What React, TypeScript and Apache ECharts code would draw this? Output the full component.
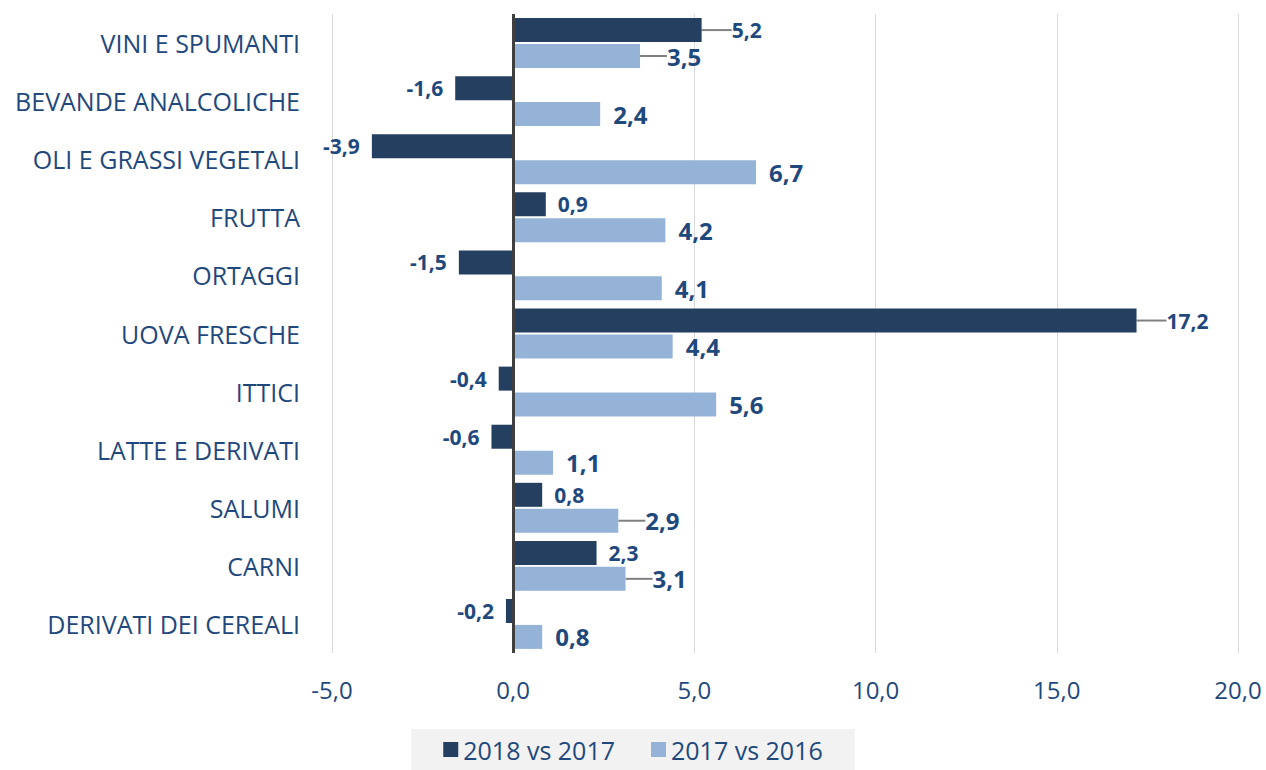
import React, { useEffect, useRef } from "react";
import * as echarts from "echarts";

const categories = [
  "VINI E SPUMANTI",
  "BEVANDE ANALCOLICHE",
  "OLI E GRASSI VEGETALI",
  "FRUTTA",
  "ORTAGGI",
  "UOVA FRESCHE",
  "ITTICI",
  "LATTE E DERIVATI",
  "SALUMI",
  "CARNI",
  "DERIVATI DEI CEREALI",
];
const series2018vs2017 = [5.2, -1.6, -3.9, 0.9, -1.5, 17.2, -0.4, -0.6, 0.8, 2.3, -0.2];
const series2017vs2016 = [3.5, 2.4, 6.7, 4.2, 4.1, 4.4, 5.6, 1.1, 2.9, 3.1, 0.8];
const seriesNames = ["2018 vs 2017", "2017 vs 2016"];
const xTicks = { min: -5, max: 20, interval: 5 };
// categories whose labels were pulled away from the bar with a leader line
const leader2018 = ["VINI E SPUMANTI", "UOVA FRESCHE"];
const leader2017 = ["VINI E SPUMANTI", "SALUMI", "CARNI"];

const fmt = (v: number, d = 1) => v.toFixed(d).replace(".", ",");

export default function App() {
  const ref = useRef<HTMLDivElement>(null);
  useEffect(() => {
    document.body.style.margin = "0";
    const chart = echarts.init(ref.current!, null, { renderer: "svg" });
    const textColor = "#1F497D";
    const font = "'Open Sans', 'DejaVu Sans', sans-serif";
    const mkLayout = (names: string[], dx: number) => (p: any) =>
      names.includes(categories[p.dataIndex]) ? { dx } : {};
    const mkData = (vals: number[], leaders: string[]) =>
      vals.map((v, i) => {
        const item: any = { value: v };
        if (v < 0) item.label = { position: "left" };
        if (leaders.includes(categories[i])) item.labelLine = { show: true };
        return item;
      });
    chart.setOption({
      animation: false,
      textStyle: { fontFamily: font },
      grid: { left: 332, right: 28, top: 14, bottom: 117, containLabel: false },
      legend: {
        data: seriesNames,
        bottom: 0,
        left: "center",
        backgroundColor: "#f2f2f2",
        padding: [8, 32, 8, 32],
        itemWidth: 15,
        itemHeight: 15,
        itemGap: 36,
        icon: "rect",
        textStyle: { fontSize: 25, color: textColor, fontFamily: font },
      },
      xAxis: {
        type: "value",
        min: xTicks.min,
        max: xTicks.max,
        interval: xTicks.interval,
        axisLine: { show: false },
        axisTick: { show: false },
        splitLine: { show: true, lineStyle: { color: "#d9d9d9", width: 1 } },
        axisLabel: {
          formatter: (v: number) => fmt(v),
          fontSize: 24,
          color: textColor,
          margin: 24,
          fontFamily: font,
        },
      },
      yAxis: {
        type: "category",
        data: categories,
        inverse: true,
        axisLine: { show: false, onZero: false },
        axisTick: { show: false },
        axisLabel: { fontSize: 25, color: textColor, margin: 32, fontFamily: font },
      },
      series: [
        {
          name: seriesNames[0],
          type: "bar",
          data: mkData(series2018vs2017, leader2018),
          barWidth: 24,
          barGap: "8%",
          itemStyle: { color: "#243F60" },
          label: {
            show: true,
            position: "right",
            distance: 12,
            formatter: (p: any) => fmt(p.value),
            fontSize: 21,
            fontWeight: "bold",
            color: textColor,
            fontFamily: font,
          },
          labelLine: { show: false, lineStyle: { color: "#808080", width: 2 } },
          labelLayout: mkLayout(leader2018, 18),
          markLine: {
            silent: true,
            symbol: "none",
            label: { show: false },
            lineStyle: { color: "#404040", width: 3, type: "solid" },
            data: [{ xAxis: 0 }],
          },
        },
        {
          name: seriesNames[1],
          type: "bar",
          data: mkData(series2017vs2016, leader2017),
          barWidth: 24,
          barGap: "8%",
          itemStyle: { color: "#95B3D7" },
          label: {
            show: true,
            position: "right",
            distance: 13,
            formatter: (p: any) => fmt(p.value),
            fontSize: 24,
            fontWeight: "bold",
            color: textColor,
            fontFamily: font,
          },
          labelLine: { show: false, lineStyle: { color: "#808080", width: 2 } },
          labelLayout: mkLayout(leader2017, 14),
        },
      ],
    });
    return () => chart.dispose();
  }, []);
  return <div ref={ref} style={{ width: 1266, height: 770 }} />;
}
